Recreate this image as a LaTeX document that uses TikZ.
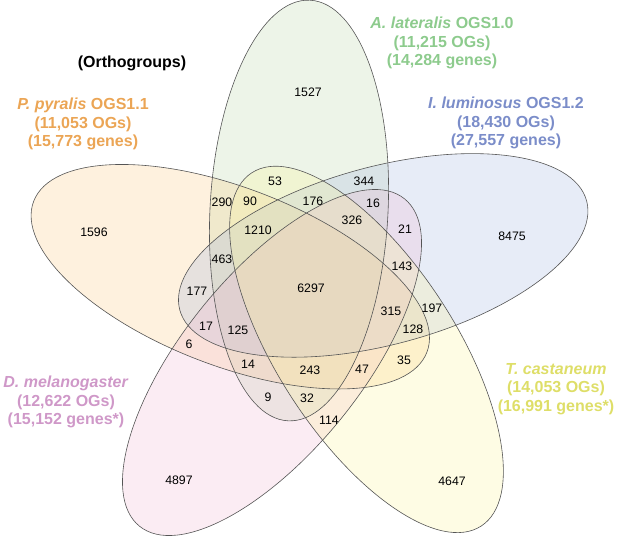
\documentclass[tikz,border=0pt]{standalone}
\usepackage{fontspec}
\setmainfont{Liberation Sans}
\definecolor{fgreen}{RGB}{183,211,163}
\definecolor{forange}{RGB}{251,199,123}
\definecolor{fblue}{RGB}{159,179,223}
\definecolor{fpink}{RGB}{239,179,207}
\definecolor{fyellow}{RGB}{251,243,147}
\definecolor{tgreen}{RGB}{141,203,141}
\definecolor{torange}{RGB}{235,165,85}
\definecolor{tblue}{RGB}{123,141,201}
\definecolor{tpink}{RGB}{207,152,200}
\definecolor{tyellow}{RGB}{222,222,104}
\definecolor{edgegray}{RGB}{85,85,85}
\begin{document}
\begin{tikzpicture}[x=1pt,y=-1pt,
  vfill/.style={fill opacity=0.25},
  vedge/.style={draw=edgegray, line width=0.6pt},
  num/.style={font=\fontsize{12.3}{14}\selectfont, inner sep=0pt, text=black},
  setlabel/.style={font=\fontsize{16}{18.5}\selectfont\bfseries, align=center, inner sep=0pt},
]
\useasboundingbox (0,0) rectangle (617,536);
% fills
\fill[fgreen, vfill, rotate around={87:(299,210.5)}] (299,210.5) ellipse [x radius=210.6pt, y radius=89pt];
\fill[forange, vfill, rotate around={159:(230.3,276.7)}] (230.3,276.7) ellipse [x radius=210.6pt, y radius=89pt];
\fill[fblue, vfill, rotate around={15:(383.2,255.4)}] (383.2,255.4) ellipse [x radius=210.6pt, y radius=89pt];
\fill[fpink, vfill, rotate around={51:(272,362.5)}] (272,362.5) ellipse [x radius=210.6pt, y radius=89pt];
\fill[fyellow, vfill, rotate around={-57:(366.5,349.4)}] (366.5,349.4) ellipse [x radius=210.6pt, y radius=89pt];
% outlines
\draw[vedge, rotate around={87:(299,210.5)}] (299,210.5) ellipse [x radius=210.6pt, y radius=89pt];
\draw[vedge, rotate around={159:(230.3,276.7)}] (230.3,276.7) ellipse [x radius=210.6pt, y radius=89pt];
\draw[vedge, rotate around={15:(383.2,255.4)}] (383.2,255.4) ellipse [x radius=210.6pt, y radius=89pt];
\draw[vedge, rotate around={51:(272,362.5)}] (272,362.5) ellipse [x radius=210.6pt, y radius=89pt];
\draw[vedge, rotate around={-57:(366.5,349.4)}] (366.5,349.4) ellipse [x radius=210.6pt, y radius=89pt];
% set labels
\node[setlabel, text=black] (title) at (132,63) {(Orthogroups)};
\node[setlabel, text=tgreen] (lA) at (442,43) {\textit{A. lateralis} OGS1.0\\(11,215 OGs)\\(14,284 genes)};
\node[setlabel, text=torange] (lP) at (83,124) {\textit{P. pyralis} OGS1.1\\(11,053 OGs)\\(15,773 genes)};
\node[setlabel, text=tblue] (lI) at (506,123) {\textit{I. luminosus} OGS1.2\\(18,430 OGs)\\(27,557 genes)};
\node[setlabel, text=tpink] (lD) at (66,402) {\textit{D. melanogaster}\\(12,622 OGs)\\(15,152 genes*)};
\node[setlabel, text=tyellow] (lT) at (556,389) {\textit{T. castaneum}\\(14,053 OGs)\\(16,991 genes*)};
% region counts
\node[num] (n1527) at (308,92) {1527};
\node[num] (n1596) at (94,232) {1596};
\node[num] (n8475) at (512,236) {8475};
\node[num] (n4897) at (179,480) {4897};
\node[num] (n4647) at (452,481) {4647};
\node[num] (n53) at (275,181) {53};
\node[num] (n344) at (364,181) {344};
\node[num] (n290) at (222,202) {290};
\node[num] (n90) at (250,201) {90};
\node[num] (n176) at (313,201) {176};
\node[num] (n16) at (373,203) {16};
\node[num] (n326) at (352,220) {326};
\node[num] (n21) at (405,229) {21};
\node[num] (n1210) at (258,230) {1210};
\node[num] (n463) at (222,259) {463};
\node[num] (n143) at (402,266) {143};
\node[num] (n6297) at (311,288) {6297};
\node[num] (n177) at (197,291) {177};
\node[num] (n315) at (391,311) {315};
\node[num] (n197) at (432,308) {197};
\node[num] (n17) at (206,326) {17};
\node[num] (n125) at (238,330) {125};
\node[num] (n128) at (413,329) {128};
\node[num] (n6) at (189,344) {6};
\node[num] (n14) at (248,364) {14};
\node[num] (n243) at (310,370) {243};
\node[num] (n47) at (362,369) {47};
\node[num] (n35) at (404,360) {35};
\node[num] (n9) at (268,397) {9};
\node[num] (n32) at (307,398) {32};
\node[num] (n114) at (329,420) {114};
\end{tikzpicture}
\end{document}
